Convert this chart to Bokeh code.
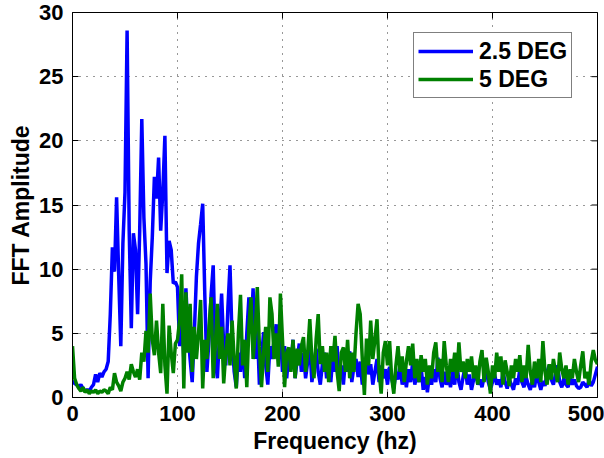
import math
from bokeh.plotting import figure
from bokeh.models import ColumnDataSource, Range1d, FixedTicker, Legend, LegendItem
from bokeh.embed import file_html
from bokeh.resources import INLINE

freq_step = 2
blue_25deg = [
    1.3, 1.1, 1.0, 0.8, 1.0, 0.7, 0.5, 0.6, 0.5, 0.8,
    1.0, 1.8, 1.2, 1.9, 1.6, 2.0, 2.2, 2.8, 6.5, 11.7,
    9.8, 15.6, 9.5, 4.0, 12.0, 16.0, 28.6, 13.0, 5.4, 12.8,
    11.5, 6.5, 13.0, 21.7, 14.0, 10.4, 1.5, 9.0, 12.5, 17.2,
    15.5, 18.7, 13.0, 16.0, 20.4, 9.7, 12.2, 11.5, 8.9, 9.0,
    8.6, 4.0, 7.5, 3.0, 8.5, 5.0, 3.0, 1.2, 5.0, 9.4,
    12.0, 13.5, 15.1, 8.0, 2.0, 4.5, 8.0, 10.3, 3.0, 1.5,
    5.0, 8.1, 4.0, 2.5, 7.0, 10.3, 4.5, 2.0, 0.8, 3.5,
    2.0, 4.5, 1.5, 5.0, 7.8, 5.0, 8.5, 3.0, 5.5, 1.0,
    3.0, 5.1, 2.5, 1.0, 4.0, 3.0, 4.5, 5.7, 3.5, 5.0,
    2.0, 4.0, 1.5, 3.5, 2.5, 4.5, 1.5, 3.0, 4.2, 2.0,
    3.5, 1.5, 2.8, 4.0, 1.2, 2.5, 3.8, 2.0, 1.0, 2.6,
    3.5, 1.5, 2.8, 1.2, 3.3, 2.0, 4.0, 1.5, 2.5, 1.0,
    3.0, 2.0, 3.6, 1.2, 2.4, 3.0, 1.6, 2.8, 1.0, 2.2,
    3.2, 1.8, 2.6, 1.0, 2.0, 3.0, 1.2, 2.5, 1.5, 2.2,
    1.0, 2.4, 1.5, 0.7, 2.0, 1.4, 2.6, 1.0, 1.8, 0.8,
    2.2, 1.2, 2.8, 1.0, 1.8, 1.2, 2.4, 0.6, 1.6, 0.4,
    1.8, 1.0, 2.2, 1.2, 3.1, 1.5, 0.8, 2.0, 1.0, 1.6,
    0.8, 2.0, 1.0, 2.8, 1.2, 0.6, 1.6, 2.4, 1.0, 1.8,
    0.6, 1.4, 2.0, 1.0, 1.4, 0.8, 1.6, 2.2, 1.2, 0.6,
    1.2, 1.8, 1.0, 1.4, 0.8, 2.0, 1.2, 0.7, 1.4, 1.0,
    0.6, 1.5, 1.0, 2.2, 1.2, 0.8, 1.6, 1.0, 0.6, 1.4,
    0.8, 1.8, 1.2, 0.6, 1.3, 0.9, 2.0, 2.5, 1.4, 1.0,
    1.8, 2.5, 1.2, 0.8, 1.5, 1.0, 0.8, 1.6, 1.0, 1.4,
    0.9, 0.7, 0.8, 1.2, 1.0, 0.8, 1.4, 0.9, 1.2, 1.8,
    2.4,
]
green_5deg = [
    4.0, 1.5, 1.0, 0.7, 0.5, 0.8, 0.4, 0.6, 0.3, 0.5,
    0.4, 0.6, 0.3, 0.5, 0.4, 0.6, 0.5, 0.3, 0.8, 0.6,
    1.9, 1.2, 0.9, 0.5, 1.2, 1.5, 2.0, 1.4, 2.6, 2.0,
    1.6, 2.2, 1.4, 3.5, 2.8, 5.2, 3.5, 8.1, 4.5, 3.3,
    6.0, 3.5, 1.9, 7.3, 2.5, 0.3, 5.6, 3.5, 1.9, 4.2,
    4.5, 6.0, 9.6, 0.7, 8.2, 3.5, 7.3, 2.0, 5.5, 3.0,
    5.0, 7.6, 0.7, 4.5, 3.0, 5.5, 7.8, 1.5, 4.0, 7.3,
    3.0, 5.5, 1.1, 3.5, 5.0, 2.5, 6.0, 3.0, 0.7, 5.0,
    8.0, 2.5, 4.5, 0.8, 5.5, 7.8, 3.0, 5.0, 8.6, 4.0,
    0.8, 3.5, 5.5, 2.0, 7.8, 6.5, 3.0, 5.0, 2.4, 8.1,
    4.5, 0.8, 3.5, 3.9, 2.0, 4.5, 1.5, 3.8, 2.5, 4.0,
    4.7, 2.0, 3.5, 6.1, 3.0, 1.5, 4.5, 6.5, 2.6, 4.0,
    2.0, 3.5, 1.2, 4.0, 2.8, 4.8, 2.0, 0.5, 3.5, 3.9,
    2.0, 4.5, 1.5, 3.5, 2.0, 5.0, 7.3, 6.5, 3.0, 0.2,
    4.6, 2.5, 6.0, 3.0, 4.5, 6.1, 2.0, 0.3, 3.5, 4.4,
    2.5, 4.4, 1.5, 0.3, 2.5, 4.0, 2.0, 3.2, 1.2, 2.8,
    4.0, 2.5, 4.2, 1.5, 3.0, 1.2, 3.3, 2.0, 3.0, 1.0,
    2.5, 1.5, 3.5, 4.3, 2.0, 3.0, 1.2, 4.4, 2.5, 1.2,
    3.0, 2.0, 3.5, 1.5, 4.3, 2.0, 2.8, 1.5, 3.0, 2.0,
    3.2, 1.5, 2.5, 1.0, 2.8, 3.7, 1.2, 3.1, 2.0, 0.3,
    2.5, 1.5, 3.5, 2.0, 3.2, 1.0, 2.9, 2.0, 0.9, 2.5,
    1.5, 3.0, 2.0, 3.3, 1.2, 2.5, 1.5, 4.1, 2.0, 1.0,
    2.8, 1.5, 3.0, 1.2, 4.4, 2.0, 1.0, 2.6, 1.4, 3.0,
    2.0, 1.2, 3.5, 2.2, 1.5, 2.5, 1.0, 2.2, 1.5, 3.0,
    2.0, 1.2, 2.5, 3.6, 1.5, 2.0, 1.0, 2.8, 3.7, 2.9,
    2.6,
]
freq = [i * freq_step for i in range(len(blue_25deg))]
x_ticks = [0, 100, 200, 300, 400, 500]
y_ticks = [0, 5, 10, 15, 20, 25, 30]
series_labels = ["2.5 DEG", "5 DEG"]
X_MAX, Y_MAX = 500, 30

FONT = "Liberation Sans"

p = figure(width=604, height=458, output_backend="svg", toolbar_location=None,
           x_range=Range1d(0, X_MAX), y_range=Range1d(0, Y_MAX),
           min_border_left=72, min_border_right=7, min_border_top=12, min_border_bottom=61,
           x_axis_label="Frequency (hz)", y_axis_label="FFT Amplitude")
p.background_fill_color = "white"
p.border_fill_color = "white"
p.outline_line_color = "black"
p.outline_line_width = 1
p.outline_line_alpha = 1

p.xgrid.ticker = FixedTicker(ticks=x_ticks)
p.ygrid.ticker = FixedTicker(ticks=y_ticks)
for g in (p.xgrid[0], p.ygrid[0]):
    g.grid_line_color = "#303030"
    g.grid_line_dash = "1 6"
    g.grid_line_width = 1

src = ColumnDataSource(dict(f=freq, b=blue_25deg, g=green_5deg))
rb = p.line("f", "b", source=src, line_color="#0000FF", line_width=3.5)
rg = p.line("f", "g", source=src, line_color="#008000", line_width=3.5)

# MATLAB-style inward ticks on the top and right edges (clipped to the frame)
p.scatter(x=x_ticks, y=[Y_MAX] * len(x_ticks), marker="dash", size=12,
          angle=math.pi / 2, line_color="black", line_width=1)
p.scatter(x=[X_MAX] * len(y_ticks), y=y_ticks, marker="dash", size=12,
          line_color="black", line_width=1)

for ax in (p.xaxis[0], p.yaxis[0]):
    ax.major_label_text_font = FONT
    ax.major_label_text_font_style = "bold"
    ax.major_label_text_font_size = "22px"
    ax.major_label_text_color = "black"
    ax.axis_label_text_font = FONT
    ax.axis_label_text_font_style = "bold"
    ax.axis_label_text_font_size = "23px"
    ax.axis_label_text_color = "black"
    ax.axis_line_color = "black"
    ax.major_tick_in = 6
    ax.major_tick_out = 0
    ax.major_tick_line_color = "black"
    ax.minor_tick_line_color = None

p.xaxis[0].ticker = FixedTicker(ticks=x_ticks)
p.yaxis[0].ticker = FixedTicker(ticks=y_ticks)
p.xaxis[0].major_label_standoff = 8
p.xaxis[0].axis_label_standoff = 4
p.yaxis[0].major_label_standoff = 9
p.yaxis[0].axis_label_standoff = 2

legend = Legend(items=[LegendItem(label=series_labels[0], renderers=[rb]),
                       LegendItem(label=series_labels[1], renderers=[rg])],
                location=(341, 299))
legend.label_text_font = FONT
legend.label_text_font_style = "bold"
legend.label_text_font_size = "23px"
legend.label_text_color = "black"
legend.border_line_color = "black"
legend.border_line_width = 1
legend.background_fill_color = "white"
legend.background_fill_alpha = 1
legend.padding = 4
legend.spacing = 0
legend.glyph_width = 55
legend.glyph_height = 28
legend.label_height = 28
legend.label_width = 86
legend.label_standoff = 6
legend.margin = 0
p.add_layout(legend, "center")

open("out.html", "w").write(file_html(p, INLINE))
